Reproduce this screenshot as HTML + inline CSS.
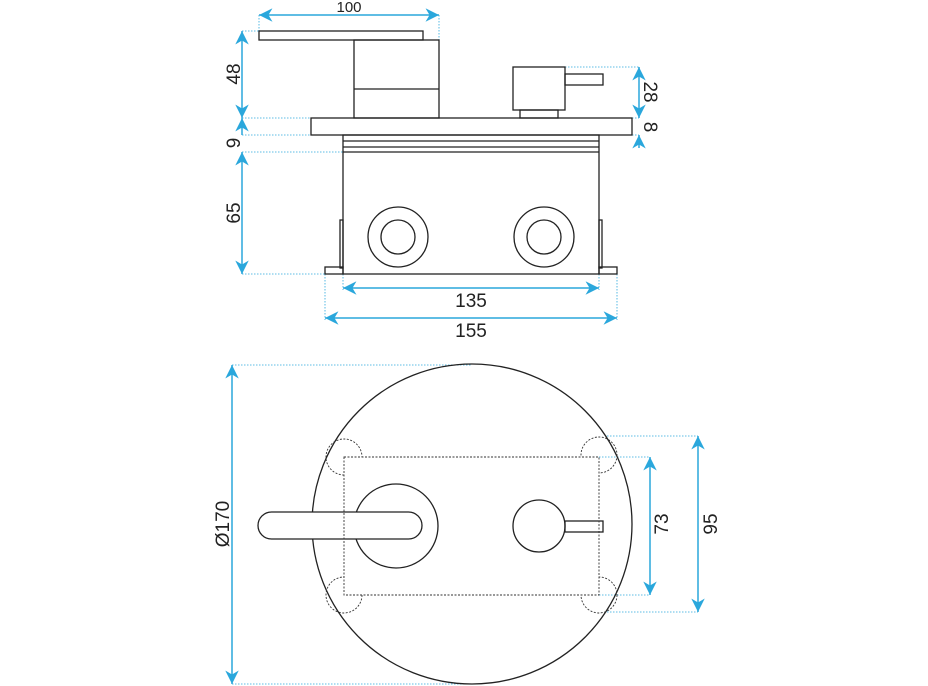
<!DOCTYPE html><html><head><style>body{margin:0;background:#fff}svg{display:block}text{font-family:"Liberation Sans",sans-serif;fill:#222}</style></head><body>
<svg width="928" height="686" viewBox="0 0 928 686" xmlns="http://www.w3.org/2000/svg">
<defs>
<marker id="a" viewBox="0 0 10 10" refX="10" refY="5" markerWidth="9" markerHeight="9" orient="auto-start-reverse"><path d="M0,0 L10,5 L0,10 L3,5z" fill="#2aa7dc"/></marker>
<clipPath id="out"><path d="M0 0H928V686H0Z M344 457V595H599V457Z" clip-rule="evenodd"/></clipPath>
</defs>
<g fill="none" stroke="#2aa7dc" stroke-width="1.5">
<line x1="259" y1="15" x2="439" y2="15" marker-start="url(#a)" marker-end="url(#a)"/>
<line x1="242" y1="31" x2="242" y2="118" marker-start="url(#a)" marker-end="url(#a)"/>
<line x1="242" y1="118" x2="242" y2="135" marker-start="url(#a)"/>
<line x1="242" y1="152" x2="242" y2="274" marker-start="url(#a)" marker-end="url(#a)"/>
<line x1="639" y1="67" x2="639" y2="118" marker-start="url(#a)" marker-end="url(#a)"/>
<line x1="639" y1="135" x2="639" y2="148" marker-start="url(#a)"/>
<line x1="343" y1="288" x2="599" y2="288" marker-start="url(#a)" marker-end="url(#a)"/>
<line x1="325" y1="318" x2="617" y2="318" marker-start="url(#a)" marker-end="url(#a)"/>
<line x1="232" y1="365" x2="232" y2="684" marker-start="url(#a)" marker-end="url(#a)"/>
<line x1="650" y1="457" x2="650" y2="595" marker-start="url(#a)" marker-end="url(#a)"/>
<line x1="698" y1="436" x2="698" y2="612" marker-start="url(#a)" marker-end="url(#a)"/>
</g>
<g fill="none" stroke="#2aa7dc" stroke-width="0.8" stroke-dasharray="1.5,1.5">
<path d="M259 15V31M439 15V40M242 31H259M242 118H311M242 135H311M242 152H343M242 274H325M565 67H639M632 118H639M632 135H639M343 274V290M599 274V290M325 274V320M617 274V320M232 365H472M232 684H472M607 436H698M607 612H698M599 457H650M599 595H650"/>
</g>
<g fill="none" stroke="#222" stroke-width="1.3">
<rect x="259" y="31" width="164" height="9"/>
<rect x="354" y="40" width="85" height="78"/>
<line x1="354" y1="89" x2="439" y2="89"/>
<rect x="513" y="67" width="52" height="43"/>
<rect x="565" y="74" width="38" height="11"/>
<rect x="520" y="110" width="38" height="8"/>
<rect x="311" y="118" width="321" height="17"/>
<rect x="343" y="135" width="256" height="139"/>
<line x1="343" y1="141" x2="599" y2="141"/><line x1="343" y1="147" x2="599" y2="147"/><line x1="343" y1="152" x2="599" y2="152"/>
<circle cx="398" cy="237" r="30"/><circle cx="398" cy="237" r="17"/>
<circle cx="544" cy="237" r="30"/><circle cx="544" cy="237" r="17"/>
<rect x="340" y="220" width="3" height="48"/><rect x="599" y="220" width="3" height="48"/>
<rect x="325" y="267" width="18" height="7"/><rect x="599" y="267" width="18" height="7"/>
<circle cx="472" cy="524" r="160"/>
<circle cx="396" cy="526" r="42"/>
<rect x="258" y="512" width="164" height="27" rx="13.5" fill="#fff"/>
<circle cx="539" cy="526" r="26"/>
<rect x="565" y="521" width="38" height="11"/>
</g>
<g fill="none" stroke="#333" stroke-width="0.9" stroke-dasharray="2,1.5">
<rect x="344" y="457" width="255" height="138"/>
<g clip-path="url(#out)">
<circle cx="344" cy="457" r="18"/><circle cx="599" cy="455" r="18"/>
<circle cx="344" cy="595" r="18"/><circle cx="599" cy="595" r="18"/>
</g>
</g>
<g font-size="19">
<text x="349" y="12" text-anchor="middle" font-size="15">100</text>
<text x="471" y="307" text-anchor="middle">135</text>
<text x="471" y="337" text-anchor="middle">155</text>
<text transform="translate(240,74) rotate(-90)" text-anchor="middle">48</text>
<text transform="translate(240,143) rotate(-90)" text-anchor="middle">9</text>
<text transform="translate(240,213) rotate(-90)" text-anchor="middle">65</text>
<text transform="translate(229,524) rotate(-90)" text-anchor="middle">Ø170</text>
<text transform="translate(644,92) rotate(90)" text-anchor="middle">28</text>
<text transform="translate(644,127) rotate(90)" text-anchor="middle">8</text>
<text transform="translate(668,524) rotate(-90)" text-anchor="middle">73</text>
<text transform="translate(717,524) rotate(-90)" text-anchor="middle">95</text>
</g>
</svg></body></html>
